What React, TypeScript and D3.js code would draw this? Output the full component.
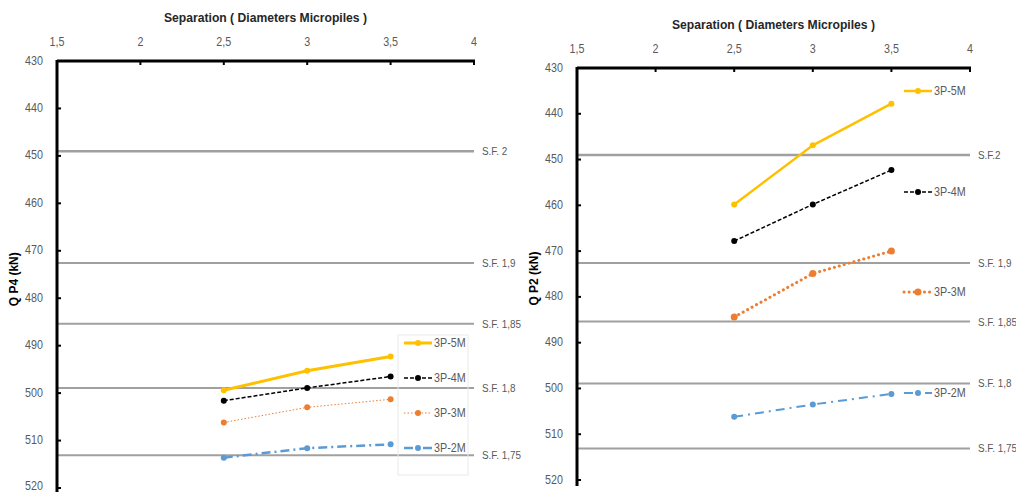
import React from 'react';
import * as d3 from 'd3';

// x values (separation in diameters)
const separations = [2.5, 3, 3.5];
const xTicks = [1.5, 2, 2.5, 3, 3.5, 4];
const yTicks = [430, 440, 450, 460, 470, 480, 490, 500, 510, 520];

const seriesNames = ['3P-5M', '3P-4M', '3P-3M', '3P-2M'];

// Q P4 (left chart)
const p4_5M = [499.4, 495.3, 492.3];
const p4_4M = [501.6, 498.9, 496.5];
const p4_3M = [506.2, 503.0, 501.3];
const p4_2M = [513.6, 511.6, 510.8];

// Q P2 (right chart)
const p2_5M = [459.8, 446.9, 437.8];
const p2_4M = [467.8, 459.8, 452.3];
const p2_3M = [484.4, 474.9, 470.0];
const p2_2M = [506.2, 503.5, 501.2];

// safety factor reference lines
const sfValues = [449.0, 472.6, 485.4, 498.9, 513.1];
const sfLabelsLeft = ['S.F. 2', 'S.F. 1,9', 'S.F. 1,85', 'S.F. 1,8', 'S.F. 1,75'];
const sfLabelsRight = ['S.F.2', 'S.F. 1,9', 'S.F. 1,85', 'S.F. 1,8', 'S.F. 1,75'];

const FONT = "'Liberation Sans Narrow', 'Liberation Sans', Arial, sans-serif";
const GREY_TEXT = '#595959';

type Style = { color: string; width: number; dash: string; cap: string; r: number };

const leftStyles: Style[] = [
  { color: '#FFC000', width: 3, dash: '', cap: 'butt', r: 3 },
  { color: '#000000', width: 1.5, dash: '4,2', cap: 'butt', r: 3 },
  { color: '#ED7D31', width: 1, dash: '1.5,2', cap: 'butt', r: 3 },
  { color: '#5B9BD5', width: 2.5, dash: '9,4,2,4', cap: 'butt', r: 3 },
];
const rightStyles: Style[] = [
  { color: '#FFC000', width: 2.5, dash: '', cap: 'butt', r: 3 },
  { color: '#000000', width: 1.5, dash: '4,2', cap: 'butt', r: 3 },
  { color: '#ED7D31', width: 3, dash: '0.1,5', cap: 'round', r: 3.5 },
  { color: '#5B9BD5', width: 2, dash: '9,5,2,5', cap: 'butt', r: 3 },
];

type PanelProps = {
  left: number;
  right: number;
  top: number;
  bottom: number;
  yLabel: string;
  series: number[][];
  styles: Style[];
  sfLabels: string[];
  legendX: number;
  legendY: number[];
  legendBox?: { x: number; y: number; w: number; h: number };
  titleY: number;
};

const fmt = (v: number) => String(v).replace('.', ',');

// narrow text, the original uses a condensed font
const Narrow = ({ x, y, size, anchor, children }: any) => (
  <text transform={`translate(${x},${y}) scale(0.86,1)`} textAnchor={anchor || 'start'} fontSize={size} fill={GREY_TEXT}>
    {children}
  </text>
);

const Panel = (p: PanelProps) => {
  const x = d3.scaleLinear().domain([1.5, 4]).range([p.left, p.right]);
  const y = d3.scaleLinear().domain([430, 520]).range([p.top, p.bottom]);
  const line = d3.line<number>().x((_, i) => x(separations[i])).y(d => y(d));
  const midX = (p.left + p.right) / 2;
  const midY = y(476);

  return (
    <g>
      <text transform={`translate(${midX},${p.titleY}) scale(0.9,1)`} textAnchor="middle" fontSize={13.5} fontWeight="bold" fill="#262626">
        Separation ( Diameters Micropiles )
      </text>
      <text transform={`translate(${p.left - 39},${midY}) rotate(-90)`} textAnchor="middle" fontSize={12} fontWeight="bold" fill="#000">
        {p.yLabel}
      </text>

      {/* safety factor lines */}
      {sfValues.map((v, i) => (
        <g key={'sf' + i}>
          <line x1={p.left} x2={p.right} y1={y(v)} y2={y(v)} stroke="#A0A0A0" strokeWidth={i === 0 ? 2.5 : 2} />
          <Narrow x={p.right + 8} y={y(v) + 4} size={11.5}>{p.sfLabels[i]}</Narrow>
        </g>
      ))}

      {/* axes */}
      <line x1={p.left} x2={p.right + 1} y1={p.top} y2={p.top} stroke="#000" strokeWidth={3} />
      <line x1={p.left} x2={p.left} y1={p.top - 1} y2={p.bottom + 6} stroke="#000" strokeWidth={3} />
      {xTicks.map(t => (
        <g key={'x' + t}>
          <line x1={x(t)} x2={x(t)} y1={p.top} y2={p.top + 4} stroke="#000" strokeWidth={2} />
          <Narrow x={x(t)} y={p.top - 15} size={12.5} anchor="middle">{fmt(t)}</Narrow>
        </g>
      ))}
      {yTicks.map(t => (
        <g key={'y' + t}>
          <line x1={p.left} x2={p.left + 4} y1={y(t)} y2={y(t)} stroke="#000" strokeWidth={2} />
          <Narrow x={p.left - 14} y={Math.min(y(t) + 3.5, 490)} size={12.5} anchor="end">{t}</Narrow>
        </g>
      ))}

      {/* legend box */}
      {p.legendBox && (
        <rect x={p.legendBox.x} y={p.legendBox.y} width={p.legendBox.w} height={p.legendBox.h} fill="none" stroke="#EAEAEA" strokeWidth={1} />
      )}

      {/* series */}
      {p.series.map((s, i) => {
        const st = p.styles[i];
        return (
          <g key={'s' + i}>
            <path d={line(s) || ''} fill="none" stroke={st.color} strokeWidth={st.width} strokeDasharray={st.dash} strokeLinecap={st.cap as any} />
            {s.map((v, j) => (
              <circle key={j} cx={x(separations[j])} cy={y(v)} r={st.r} fill={st.color} />
            ))}
            <line x1={p.legendX} x2={p.legendX + 28} y1={p.legendY[i]} y2={p.legendY[i]} stroke={st.color} strokeWidth={st.width} strokeDasharray={st.dash} strokeLinecap={st.cap as any} />
            <circle cx={p.legendX + 14} cy={p.legendY[i]} r={st.r} fill={st.color} />
            <Narrow x={p.legendX + 30} y={p.legendY[i] + 4} size={12.5}>{seriesNames[i]}</Narrow>
          </g>
        );
      })}
    </g>
  );
};

export default function App() {
  return (
    <svg width={1016} height={492} style={{ display: 'block', position: 'absolute', left: 0, top: 0, background: '#fff', fontFamily: FONT }}>
      <rect width={1016} height={492} fill="#fff" />
      <Panel
        left={57}
        right={474}
        top={61}
        bottom={488}
        yLabel="Q P4 (kN)"
        series={[p4_5M, p4_4M, p4_3M, p4_2M]}
        styles={leftStyles}
        sfLabels={sfLabelsLeft}
        legendX={404}
        legendY={[343, 378, 413, 448]}
        legendBox={{ x: 398, y: 335, w: 70, h: 140 }}
        titleY={22}
      />
      <Panel
        left={577}
        right={970}
        top={68}
        bottom={480}
        yLabel="Q P2 (kN)"
        series={[p2_5M, p2_4M, p2_3M, p2_2M]}
        styles={rightStyles}
        sfLabels={sfLabelsRight}
        legendX={904}
        legendY={[91, 192, 292, 393]}
        titleY={29}
      />
    </svg>
  );
}
